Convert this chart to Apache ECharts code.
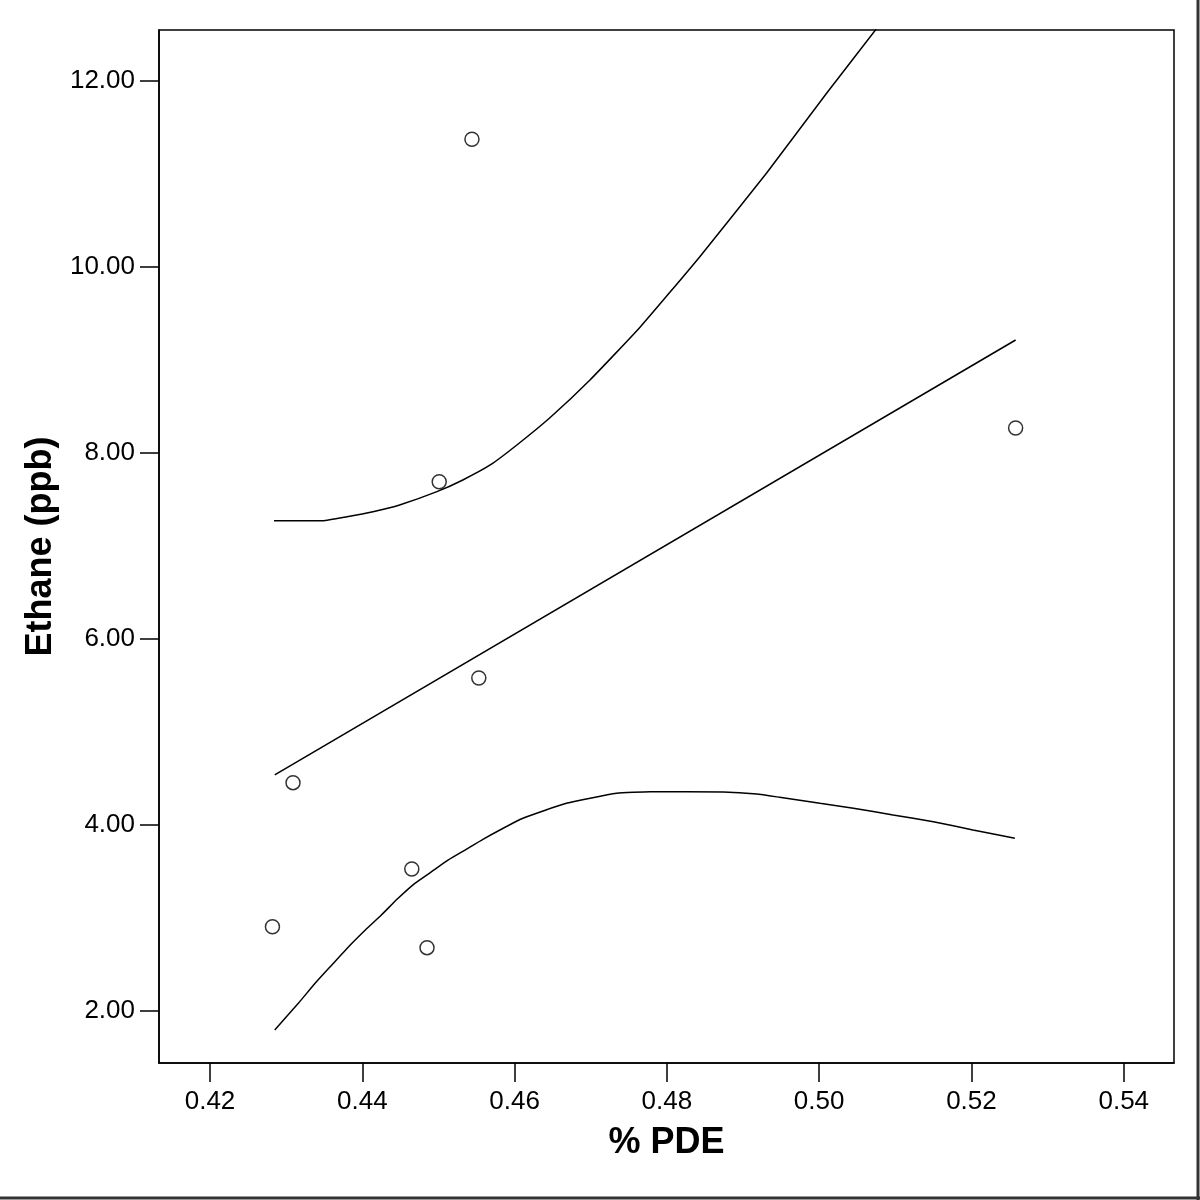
<!DOCTYPE html>
<html style="height: 100%">
<head>
    <meta charset="utf-8">
    <title>Ethane vs % PDE</title>
</head>
<body style="height: 100%; margin: 0">
    <div id="container" style="width: 1200px; height: 1200px"></div>
    <script type="text/javascript" src="https://cdn.jsdelivr.net/npm/echarts@6/dist/echarts.min.js"></script>
    <script type="text/javascript">
        // observed points
        var pde    = [0.4282, 0.4309, 0.4465, 0.4485, 0.4501, 0.4544, 0.4553, 0.5258];
        var ethane = [2.906, 4.455, 3.527, 2.681, 7.691, 11.373, 5.581, 8.269];

        // fitted line end points
        var fitX = [0.4285, 0.5258];
        var fitY = [4.538, 9.215];

        // upper confidence band
        var upperX = [0.4284, 0.4348, 0.4380, 0.4414, 0.4449, 0.4498, 0.4532, 0.4568, 0.4603,
                      0.4646, 0.4699, 0.4765, 0.4843, 0.4931, 0.5010, 0.5076];
        var upperY = [7.272, 7.272, 7.315, 7.369, 7.441, 7.584, 7.710, 7.871, 8.086,
                      8.376, 8.785, 9.355, 10.108, 11.011, 11.871, 12.570];

        // lower confidence band
        var lowerX = [0.4285, 0.4316, 0.4338, 0.4360, 0.4382, 0.4404, 0.4425, 0.4447, 0.4469,
                      0.4491, 0.4513, 0.4535, 0.4559, 0.4611, 0.4668, 0.4734, 0.4778, 0.4874,
                      0.4918, 0.4948, 0.5001, 0.5045, 0.5097, 0.5150, 0.5202, 0.5257];
        var lowerY = [1.796, 2.083, 2.298, 2.495, 2.691, 2.871, 3.032, 3.212, 3.373,
                      3.498, 3.624, 3.731, 3.849, 4.072, 4.233, 4.341, 4.358, 4.355,
                      4.333, 4.298, 4.233, 4.180, 4.108, 4.035, 3.946, 3.857];

        var xTicks = [0.42, 0.44, 0.46, 0.48, 0.50, 0.52, 0.54];
        var yTicks = [2, 4, 6, 8, 10, 12];

        function zip(a, b) {
            return a.map(function (v, i) { return [v, b[i]]; });
        }

        var dom     = document.getElementById("container");
        var myChart = echarts.init(dom);
        var font    = 'Liberation Sans, Arial, sans-serif';
        var line    = {color: '#000', width: 1.5};

        var option = {
            backgroundColor: '#fff',
            animation: false,
            grid: {
                left: 159, right: 26, top: 30, bottom: 137,
                show: true,
                borderColor: '#000',
                borderWidth: 1.5,
                containLabel: false
            },
            xAxis: {
                type: 'value',
                min: 0.4133,
                max: 0.5466,
                name: '% PDE',
                nameLocation: 'middle',
                nameGap: 62,
                nameTextStyle: {fontFamily: font, fontWeight: 'bold', fontSize: 36, color: '#000'},
                axisLine: {show: true, onZero: false, lineStyle: line},
                axisTick: {show: true, length: 19, lineStyle: line, customValues: xTicks},
                axisLabel: {
                    fontFamily: font, fontSize: 26, color: '#000', margin: 26,
                    customValues: xTicks,
                    formatter: function (v) { return v.toFixed(2); }
                },
                splitLine: {show: false}
            },
            yAxis: {
                type: 'value',
                min: 1.441,
                max: 12.548,
                name: 'Ethane (ppb)',
                nameLocation: 'middle',
                nameGap: 89,
                nameTextStyle: {fontFamily: font, fontWeight: 'bold', fontSize: 36, color: '#000'},
                axisLine: {show: true, onZero: false, lineStyle: line},
                axisTick: {show: true, length: 19, lineStyle: line, customValues: yTicks},
                axisLabel: {
                    fontFamily: font, fontSize: 26, color: '#000', margin: 24,
                    customValues: yTicks,
                    formatter: function (v) { return v.toFixed(2); }
                },
                splitLine: {show: false}
            },
            series: [{
                type: 'line',
                data: zip(fitX, fitY),
                showSymbol: false,
                lineStyle: line,
                clip: true
            }, {
                type: 'line',
                data: zip(upperX, upperY),
                showSymbol: false,
                smooth: 0.15,
                lineStyle: line,
                clip: true
            }, {
                type: 'line',
                data: zip(lowerX, lowerY),
                showSymbol: false,
                smooth: 0.15,
                lineStyle: line,
                clip: true
            }, {
                type: 'scatter',
                data: zip(pde, ethane),
                symbol: 'circle',
                symbolSize: 14,
                itemStyle: {color: '#fff', borderColor: '#000', borderWidth: 1.5},
                z: 5
            }],
            graphic: [{
                type: 'line',
                shape: {x1: 1198, y1: 0, x2: 1198, y2: 1200},
                style: {stroke: '#333', lineWidth: 3}
            }, {
                type: 'line',
                shape: {x1: 0, y1: 1198, x2: 1200, y2: 1198},
                style: {stroke: '#333', lineWidth: 3}
            }]
        };

        myChart.setOption(option, true);
    </script>
</body>
</html>
